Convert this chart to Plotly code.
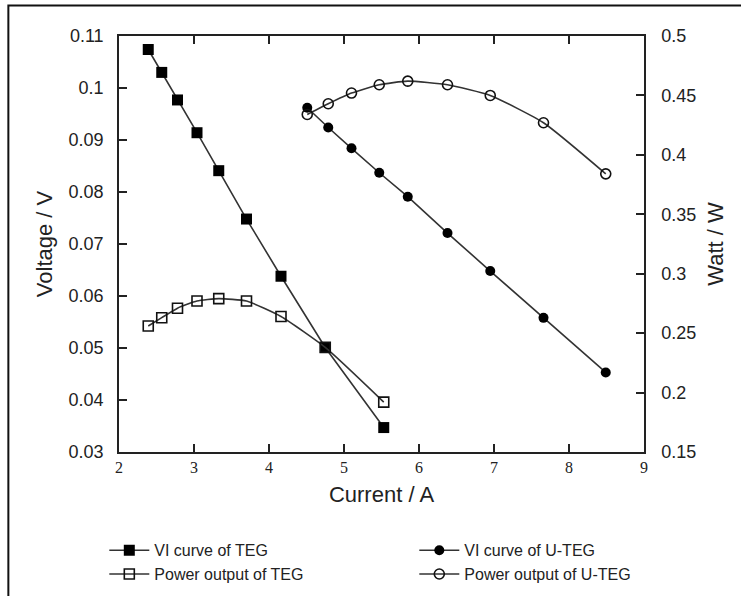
import plotly.graph_objects as go

# ---- data ----
current_teg = [2.39, 2.57, 2.78, 3.04, 3.33, 3.70, 4.16, 4.75, 5.53]
voltage_teg = [0.1074, 0.1030, 0.0977, 0.0914, 0.0841, 0.0748, 0.0638, 0.0501, 0.0347]
power_teg = [0.256, 0.263, 0.271, 0.277, 0.279, 0.277, 0.264, 0.238, 0.192]

current_uteg = [4.51, 4.79, 5.10, 5.47, 5.85, 6.38, 6.95, 7.66, 8.49]
voltage_uteg = [0.0962, 0.0924, 0.0884, 0.0837, 0.0791, 0.0721, 0.0648, 0.0558, 0.0453]
power_uteg = [0.434, 0.443, 0.452, 0.459, 0.462, 0.459, 0.450, 0.427, 0.384]

x_ticks = [2, 3, 4, 5, 6, 7, 8, 9]
y_left_ticks = [0.03, 0.04, 0.05, 0.06, 0.07, 0.08, 0.09, 0.10, 0.11]
y_left_labels = ["0.03", "0.04", "0.05", "0.06", "0.07", "0.08", "0.09", "0.1", "0.11"]
y_right_ticks = [0.15, 0.20, 0.25, 0.30, 0.35, 0.40, 0.45, 0.50]
y_right_labels = ["0.15", "0.2", "0.25", "0.3", "0.35", "0.4", "0.45", "0.5"]

names = ["VI curve of TEG", "VI curve of U-TEG", "Power output of TEG", "Power output of U-TEG"]

LINE = "#333333"
INK = "#222222"
SANS = "Liberation Sans, Arial, sans-serif"

fig = go.Figure()
fig.add_trace(go.Scatter(
    x=current_teg, y=voltage_teg, name=names[0], mode="lines+markers",
    line=dict(color=LINE, width=1.6),
    marker=dict(symbol="square", size=11, color="#000000", line=dict(width=0))))
fig.add_trace(go.Scatter(
    x=current_uteg, y=voltage_uteg, name=names[1], mode="lines+markers",
    line=dict(color=LINE, width=1.6),
    marker=dict(symbol="circle", size=10, color="#000000", line=dict(width=0))))
fig.add_trace(go.Scatter(
    x=current_teg, y=power_teg, name=names[2], mode="lines+markers", yaxis="y2",
    line=dict(color=LINE, width=1.6, shape="spline", smoothing=0.5),
    marker=dict(symbol="square-open", size=10, color="#111111", line=dict(width=1.6))))
fig.add_trace(go.Scatter(
    x=current_uteg, y=power_uteg, name=names[3], mode="lines+markers", yaxis="y2",
    line=dict(color=LINE, width=1.6, shape="spline", smoothing=0.5),
    marker=dict(symbol="circle-open", size=10, color="#111111", line=dict(width=1.6))))

W, H = 741, 596
L, R, T, B = 118.7, 97, 35.5, 143.5
pw, ph = W - L - R, H - T - B

def px_x(p):
    return (p - L) / pw

def px_y(p):
    return 1 - (p - T) / ph

fig.update_layout(
    width=W, height=H,
    margin=dict(l=L, r=R, t=T, b=B, pad=0, autoexpand=False),
    paper_bgcolor="white", plot_bgcolor="white",
    font=dict(family=SANS, color=INK, size=16),
    showlegend=True,
    legend=dict(
        orientation="h", xref="paper", yref="paper",
        x=px_x(104), y=px_y(534), xanchor="left", yanchor="top",
        entrywidth=255, entrywidthmode="pixels", itemwidth=40,
        font=dict(family=SANS, size=16, color=INK), bgcolor="rgba(0,0,0,0)",
        traceorder="normal", tracegroupgap=0),
    xaxis=dict(
        range=[2, 9], tickvals=x_ticks, ticktext=[str(v) for v in x_ticks],
        ticks="inside", ticklen=8, tickwidth=1.5, tickcolor=INK,
        showline=True, linecolor=INK, linewidth=1.5, mirror="ticks",
        showgrid=False, zeroline=False,
        tickfont=dict(family="Liberation Serif, Times New Roman, serif", size=16, color=INK),
        title=dict(text="Current / A", font=dict(family=SANS, size=22, color=INK), standoff=12),
        automargin=False),
    yaxis=dict(
        range=[0.03, 0.11], tickvals=y_left_ticks, ticktext=y_left_labels,
        ticks="inside", ticklen=8, tickwidth=1.5, tickcolor=INK,
        showline=True, linecolor=INK, linewidth=1.5,
        showgrid=False, zeroline=False, ticklabelstandoff=10,
        tickfont=dict(family=SANS, size=18, color=INK),
        title=dict(text="Voltage / V", font=dict(family=SANS, size=22, color=INK), standoff=10),
        automargin=False),
    yaxis2=dict(
        range=[0.15, 0.5], tickvals=y_right_ticks, ticktext=y_right_labels,
        overlaying="y", side="right",
        ticks="inside", ticklen=8, tickwidth=1.5, tickcolor=INK,
        showline=True, linecolor=INK, linewidth=1.5,
        showgrid=False, zeroline=False, ticklabelstandoff=12,
        tickfont=dict(family=SANS, size=18, color=INK),
        title=dict(text="Watt / W", font=dict(family=SANS, size=22, color=INK), standoff=12),
        automargin=False),
    shapes=[
        dict(type="rect", xref="paper", yref="paper",
             x0=px_x(8), x1=px_x(760), y0=px_y(620), y1=px_y(5),
             line=dict(color="#111111", width=2), fillcolor="rgba(0,0,0,0)", layer="below"),
    ],
)

fig.write_html("out.html")
